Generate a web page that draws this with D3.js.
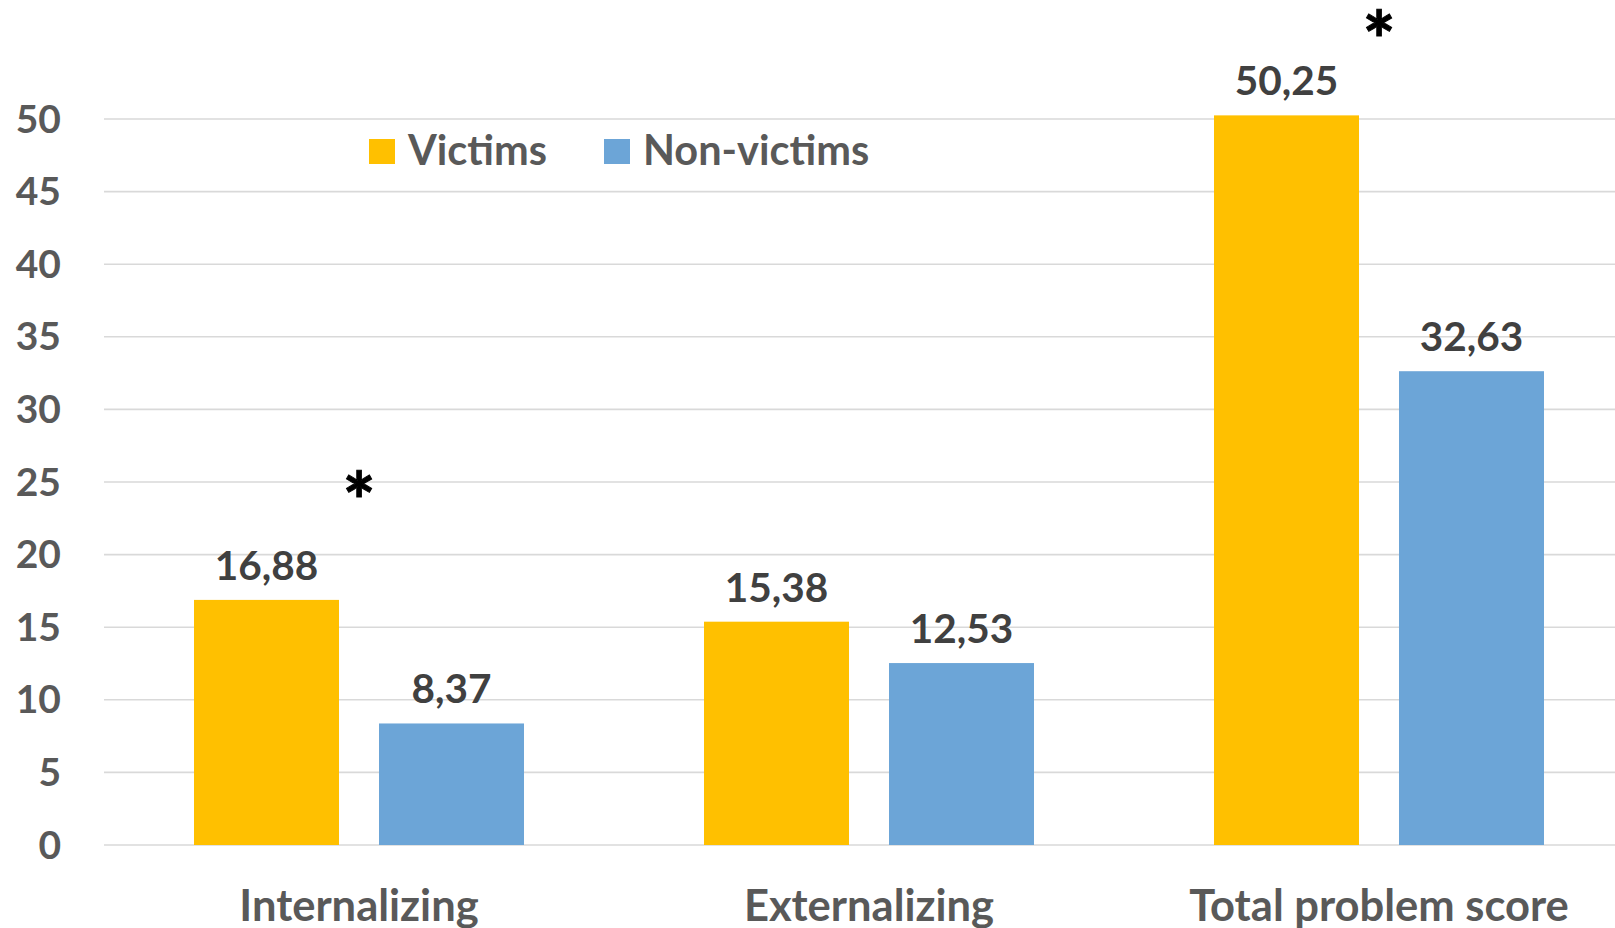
<!DOCTYPE html>
<html>
<head>
<meta charset="utf-8">
<script src="https://cdn.jsdelivr.net/npm/d3@7/dist/d3.min.js"></script>
<style>
  html, body { margin: 0; padding: 0; background: #fff; }
  svg { display: block; font-family: Lato, "Open Sans", sans-serif; font-weight: 700; }
</style>
</head>
<body>
<svg id="chart" width="1615" height="928"></svg>
<script>
// Mean problem scores by group
const categories = ["Internalizing", "Externalizing", "Total problem score"];
const seriesNames = ["Victims", "Non-victims"];
const victims = [16.88, 15.38, 50.25];
const nonVictims = [8.37, 12.53, 32.63];
const yTicks = [0, 5, 10, 15, 20, 25, 30, 35, 40, 45, 50];
// significance markers: category and the score level where the star sits
const significance = [
  { category: "Internalizing", level: 24.9 },
  { category: "Total problem score", level: 56.7 }
];

const colors = { "Victims": "#FFC000", "Non-victims": "#6CA5D7" };
const fmt = v => v.toFixed(2).replace(".", ",");

const svg = d3.select("#chart");
const plotLeft = 104, plotRight = 1634, plotTop = 119, plotBottom = 845;

const y = d3.scaleLinear().domain([0, 50]).range([plotBottom, plotTop]);
const x = d3.scaleBand().domain(categories).range([plotLeft, plotRight]);
const xs = d3.scaleBand().domain(seriesNames)
  .range([90, x.bandwidth() - 90]).paddingInner(40 / 185);

// gridlines
svg.append("g").selectAll("line").data(yTicks).join("line")
  .attr("x1", plotLeft).attr("x2", 1615)
  .attr("y1", d => y(d)).attr("y2", d => y(d))
  .attr("stroke", "#d9d9d9").attr("stroke-width", 1.6);

// y axis labels
const yAxis = d3.axisLeft(y).tickValues(yTicks).tickSize(0).tickPadding(0);
const gy = svg.append("g").attr("transform", "translate(61,0)").call(yAxis);
gy.select(".domain").remove();
gy.selectAll("text")
  .attr("fill", "#595959").attr("font-size", 39)
  .attr("font-family", "Lato, 'Open Sans', sans-serif").attr("font-weight", 700)
  .attr("dy", 13);

const rows = categories.map((c, i) => ({
  category: c,
  values: [
    { series: "Victims", value: victims[i] },
    { series: "Non-victims", value: nonVictims[i] }
  ]
}));

const groups = svg.append("g").selectAll("g").data(rows).join("g")
  .attr("transform", d => `translate(${x(d.category)},0)`);

groups.selectAll("rect").data(d => d.values).join("rect")
  .attr("x", d => xs(d.series))
  .attr("width", xs.bandwidth())
  .attr("y", d => y(d.value))
  .attr("height", d => y(0) - y(d.value))
  .attr("fill", d => colors[d.series]);

groups.selectAll("text.val").data(d => d.values).join("text")
  .attr("class", "val")
  .attr("x", d => xs(d.series) + xs.bandwidth() / 2)
  .attr("y", d => y(d.value) - 20)
  .attr("text-anchor", "middle")
  .attr("font-size", 40.5).attr("fill", "#404040")
  .text(d => fmt(d.value));

// category labels
svg.append("g").selectAll("text").data(categories).join("text")
  .attr("x", d => x(d) + x.bandwidth() / 2)
  .attr("y", 921)
  .attr("text-anchor", "middle")
  .attr("font-size", 43.5).attr("fill", "#595959")
  .text(d => d);

// significance stars
svg.append("g").selectAll("text").data(significance).join("text")
  .attr("x", d => x(d.category) + x.bandwidth() / 2)
  .attr("y", d => y(d.level))
  .attr("dy", 47)
  .attr("text-anchor", "middle")
  .attr("font-size", 78).attr("fill", "#000")
  .attr("stroke", "#000").attr("stroke-width", 1)
  .text("*");

// legend
const legend = svg.append("g").attr("transform", "translate(369,139)");
const legendX = [0, 235];
seriesNames.forEach((s, i) => {
  const g = legend.append("g").attr("transform", `translate(${legendX[i]},0)`);
  g.append("rect").attr("width", 26).attr("height", 25).attr("fill", colors[s]);
  g.append("text").attr("x", 39).attr("y", 26)
    .attr("font-size", 41.5).attr("fill", "#595959").text(s);
});
</script>
</body>
</html>
